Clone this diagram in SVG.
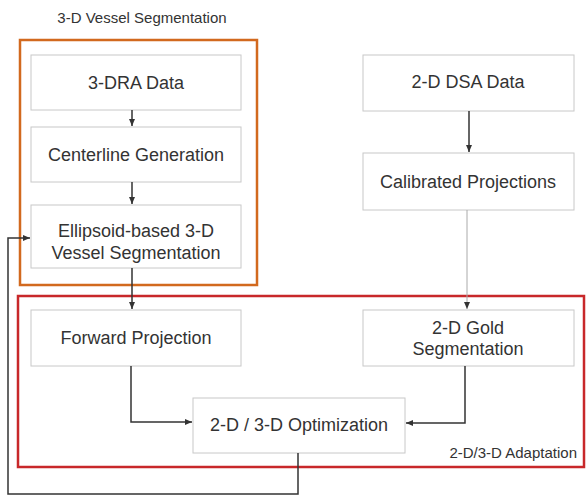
<svg xmlns="http://www.w3.org/2000/svg" width="586" height="497" viewBox="0 0 586 497">
<style>
.box{fill:#fff;stroke:#c8c8c8;stroke-width:1}
.t{font-family:"Liberation Sans",Arial,sans-serif;font-size:18px;fill:#333;text-anchor:middle}
.lbl{font-family:"Liberation Sans",Arial,sans-serif;font-size:15px;fill:#333}
.c{fill:none;stroke:#333;stroke-width:1.5}
</style>
<defs>
<marker id="ah" markerWidth="8" markerHeight="8" refX="7" refY="4" orient="auto" markerUnits="userSpaceOnUse">
<path d="M0,1 L7,4 L0,7 Z" fill="#333"/>
</marker>
</defs>
<rect width="586" height="497" fill="#fff"/>
<g id="group-3d">
<rect x="20" y="40" width="237" height="245" fill="none" stroke="#d2691e" stroke-width="2.5"/>
<text class="lbl" x="142" y="23" text-anchor="middle">3-D Vessel Segmentation</text>
</g>
<g id="group-adapt">
<rect x="18" y="296" width="566" height="171" fill="none" stroke="#c8282a" stroke-width="2.5"/>
<text class="lbl" x="577" y="458" text-anchor="end">2-D/3-D Adaptation</text>
</g>
<g id="n-3dra"><rect class="box" x="31" y="55" width="210" height="55"/><text class="t" x="136" y="89">3-DRA Data</text></g>
<g id="n-center"><rect class="box" x="31" y="127" width="210" height="55"/><text class="t" x="136" y="161">Centerline Generation</text></g>
<g id="n-ellip"><rect class="box" x="31" y="205" width="210" height="63"/><text class="t" x="136" y="237">Ellipsoid-based 3-D</text><text class="t" x="136" y="259">Vessel Segmentation</text></g>
<g id="n-dsa"><rect class="box" x="363" y="55" width="211" height="56"/><text class="t" x="468" y="88">2-D DSA Data</text></g>
<g id="n-calib"><rect class="box" x="363" y="153" width="211" height="57"/><text class="t" x="468" y="188">Calibrated Projections</text></g>
<g id="n-fwd"><rect class="box" x="31" y="310" width="210" height="56"/><text class="t" x="136" y="344">Forward Projection</text></g>
<g id="n-gold"><rect class="box" x="363" y="310" width="211" height="56"/><text class="t" x="468" y="334">2-D Gold</text><text class="t" x="468" y="355">Segmentation</text></g>
<g id="n-opt"><rect class="box" x="193" y="398" width="212" height="55"/><text class="t" x="299" y="431">2-D / 3-D Optimization</text></g>
<g id="connectors">
<line class="c" x1="132" y1="110" x2="132" y2="126" marker-end="url(#ah)" stroke-width="1.2"/>
<line class="c" x1="132" y1="182" x2="132" y2="204" marker-end="url(#ah)"/>
<line class="c" x1="132" y1="268" x2="132" y2="309" marker-end="url(#ah)"/>
<line class="c" x1="469" y1="111" x2="469" y2="152" marker-end="url(#ah)" stroke-width="2"/>
<line x1="467" y1="210" x2="467" y2="309" stroke="#aaa" stroke-width="1" marker-end="url(#ah)"/>
<polyline class="c" points="131,366 131,422 192,422" marker-end="url(#ah)"/>
<polyline class="c" points="465,366 465,423 406,423" marker-end="url(#ah)"/>
<polyline class="c" points="298,453 298,494 8,494 8,238 30,238" marker-end="url(#ah)" stroke="#222" stroke-width="2"/>
</g>
</svg>
